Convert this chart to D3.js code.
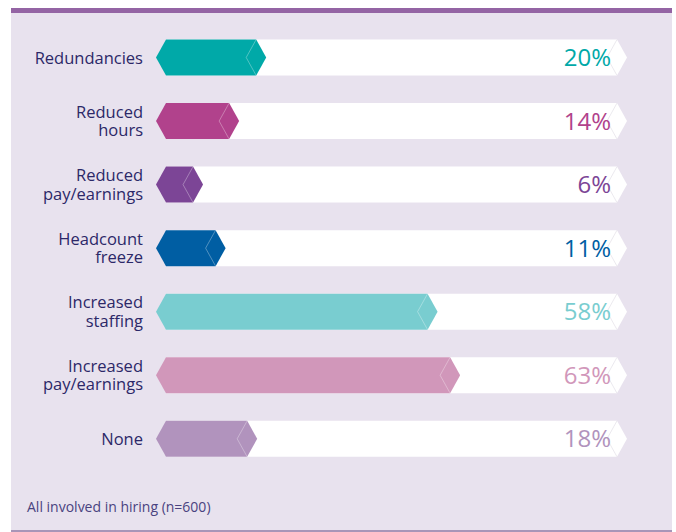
<!DOCTYPE html>
<html>
<head>
  <meta charset="utf-8">
  <style>
  body {
    margin: 0;
    background: #fff;
    font-family: "Open Sans", "Noto Sans", sans-serif;
  }
  .label {
    fill: #2c2868;
    font-size: 16.5px;
  }
  .pct {
    font-size: 24px;
    font-weight: 400;
  }
  .note {
    fill: #4a4380;
    font-size: 14px;
  }
  </style>
</head>
<body>
  <div id="chart"></div>
  <script src="https://d3js.org/d3.v7.min.js"></script>
  <script>
  // data
  var categories = ["Redundancies", "Reduced hours", "Reduced pay/earnings", "Headcount freeze",
                    "Increased staffing", "Increased pay/earnings", "None"];
  var labelLines = [["Redundancies"], ["Reduced", "hours"], ["Reduced", "pay/earnings"], ["Headcount", "freeze"],
                    ["Increased", "staffing"], ["Increased", "pay/earnings"], ["None"]];
  var values = [20, 14, 6, 11, 58, 63, 18];
  var colors = ["#00a9a8", "#b1428c", "#7c4596", "#005ea3", "#79cdd0", "#d197ba", "#b193bd"];
  var note = "All involved in hiring (n=600)";

  var W = 676, H = 532;
  var barH = 36, tip = 10;

  var svg = d3.select("#chart").append("svg")
      .attr("width", W)
      .attr("height", H);

  // panel
  svg.append("rect").attr("x", 11).attr("y", 8).attr("width", 661).attr("height", 524).attr("fill", "#e8e2ee");
  svg.append("rect").attr("x", 11).attr("y", 8).attr("width", 661).attr("height", 5).attr("fill", "#9464a4");
  svg.append("rect").attr("x", 11).attr("y", 530).attr("width", 661).attr("height", 2).attr("fill", "#a895b8");

  var x = d3.scaleLinear().domain([0, 100]).range([166, 617]);
  var y = d3.scalePoint().domain(categories).range([57.5, 438.8]);

  var line = d3.line();

  function shape(x0, x1, c, leftPoint) {
    var t = c - barH / 2, b = c + barH / 2;
    var pts = [];
    if (leftPoint) pts.push([x0 - tip, c]);
    pts.push([x0, t], [x1, t], [x1 + tip, c], [x1, b], [x0, b]);
    return line(pts) + "Z";
  }

  var rows = svg.selectAll("g.row")
      .data(categories)
    .enter().append("g")
      .attr("class", "row");

  // white track
  rows.append("path")
      .attr("d", function(d){ return shape(x(0), x(100), y(d), false); })
      .attr("fill", "#fff");

  rows.append("path")
      .attr("d", function(d){
        var c = y(d), x1 = x(100);
        return line([[x1, c - barH / 2], [x1 - tip, c], [x1, c + barH / 2]]);
      })
      .attr("fill", "none")
      .attr("stroke", "#e6e3ea")
      .attr("stroke-width", 0.8);

  // value bar
  rows.append("path")
      .attr("d", function(d, i){ return shape(x(0), x(values[i]), y(d), true); })
      .attr("fill", function(d, i){ return colors[i]; });

  rows.append("path")
      .attr("d", function(d, i){
        var c = y(d), x1 = x(values[i]);
        return line([[x1, c - barH / 2], [x1 - tip, c], [x1, c + barH / 2]]);
      })
      .attr("fill", "none")
      .attr("stroke", "#fff")
      .attr("stroke-opacity", 0.45)
      .attr("stroke-width", 0.7);

  // category labels
  rows.append("text")
      .attr("class", "label")
      .attr("text-anchor", "end")
      .each(function(d, i){
        var ls = labelLines[i], c = y(d);
        var t = d3.select(this);
        ls.forEach(function(s, j){
          var yy = ls.length === 1 ? c + 6 : c - 3.5 + j * 18.6;
          t.append("tspan").attr("x", 143).attr("y", yy).text(s);
        });
      });

  // percentages
  rows.append("text")
      .attr("class", "pct")
      .attr("x", 611)
      .attr("y", function(d){ return y(d) + 8.5; })
      .attr("text-anchor", "end")
      .attr("fill", function(d, i){ return colors[i]; })
      .text(function(d, i){ return values[i] + "%"; });

  svg.append("text")
      .attr("class", "note")
      .attr("x", 27)
      .attr("y", 511.5)
      .text(note);
  </script>
</body>
</html>
